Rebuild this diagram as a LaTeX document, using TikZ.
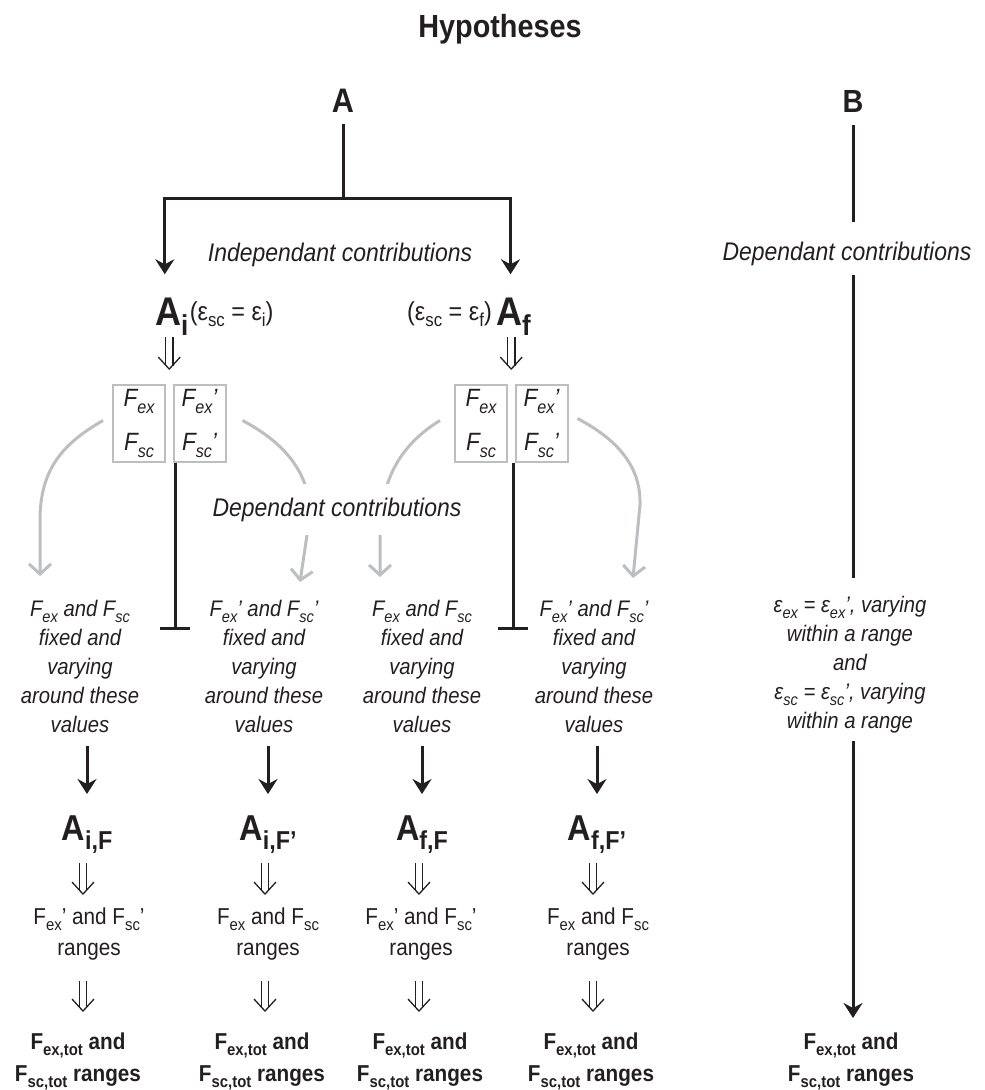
\documentclass[tikz,border=0pt]{standalone}
\usepackage{fontspec}
\setmainfont{Liberation Sans}[FakeStretch=0.9]
\usetikzlibrary{arrows.meta,calc}
\definecolor{ink}{HTML}{231F20}
\definecolor{gry}{HTML}{BCBEC0}
\newcommand{\fs}[2]{\fontsize{#1}{#2}\selectfont}
\newcommand{\lo}[1]{\raisebox{-0.25em}{\scalebox{0.72}{#1}}}
\newcommand{\dblarrow}[2]{%
	\draw[dstem] #1 -- #2;
	\draw[dtip] #1 -- #2;}
\tikzset{
	ln/.style={draw=ink, line width=3pt},
	arr/.style={ln, -{Stealth[length=15pt,width=19pt,inset=5pt]}},
	tee/.style={ln, -{Bar[width=30pt]}},
	garr/.style={draw=gry, line width=3pt, -{Straight Barb[length=10pt,width=22pt]}},
	dstem/.style={draw=ink, double=white, line width=1.3pt, double distance=6pt, shorten >=4pt},
	dtip/.style={draw=white, line width=1pt, -{Straight Barb[color=ink,length=12pt,width=22pt,line width=1.3pt]}},
	fbox/.style={draw=gry, line width=2pt, minimum width=52pt, minimum height=77pt, align=center, font=\itshape\fs{25}{44}},
	colt/.style={align=center, anchor=north, font=\itshape\fs{22.5}{29}},
	rng/.style={align=center, anchor=north, font=\fs{23}{31}},
	tot/.style={align=center, anchor=north, font=\bfseries\fs{23}{32}},
	big/.style={anchor=base, font=\bfseries\fs{36}{36}}
}
\begin{document}
\begin{tikzpicture}[x=1pt, y=-1pt, every node/.style={inner sep=0pt, text=ink}]
	%%%%% START %%%%%
	\useasboundingbox (0,0) rectangle (985,1090);
	
	\node[anchor=base, font=\bfseries\fs{32}{32}] (hyp) at (500,37) {Hypotheses};
	\node[anchor=base, font=\bfseries\fs{34}{34}] (A) at (343,112) {A};
	\node[anchor=base, font=\bfseries\fs{32}{32}] (B) at (853,112) {B};
	\node[anchor=base, font=\itshape\fs{25.5}{26}] (ind) at (340,261) {Independant contributions};
	\node[anchor=base, font=\itshape\fs{25.5}{26}] (depB) at (847,260) {Dependant contributions};
	
	\node[anchor=base west, font=\bfseries\fs{40}{40}] (Ai) at (155,325) {A\lo{i}};
	\node[anchor=base west, font=\fs{26}{26}] (Aieq) at ([xshift=1pt,yshift=5pt]Ai.base east) {(ε\lo{sc} = ε\lo{i})};
	\node[anchor=base west, font=\bfseries\fs{40}{40}] (Af) at (496,325) {A\lo{f}};
	\node[anchor=base east, font=\fs{26}{26}] (Afeq) at ([xshift=-4pt,yshift=5pt]Af.base west) {(ε\lo{sc} = ε\lo{f})};
	
	\coordinate (jA) at (343,198);
	\draw[ln, shorten <=12pt] (A) -- (jA);
	\draw[arr, shorten >=23pt] (jA) -| ([xshift=-7pt]Ai.north);
	\draw[arr, shorten >=23pt] (jA) -| ([xshift=-3pt]Af.north);
	
	\node[fbox] (bi1) at (139,423.5) {F\lo{ex}\\F\lo{sc}};
	\node[fbox] (bi2) at (199.5,423.5) {F\lo{ex}'\\F\lo{sc}'};
	\node[fbox] (bf1) at (481,423.5) {F\lo{ex}\\F\lo{sc}};
	\node[fbox] (bf2) at (541.5,423.5) {F\lo{ex}'\\F\lo{sc}'};
	
	\coordinate (gi) at ($(bi1.north east)!0.5!(bi2.north west)$);
	\coordinate (gf) at ($(bf1.north east)!0.5!(bf2.north west)$);
	\dblarrow{($(gi |- Ai.base)+(0,12)$)}{($(gi)+(0,-14)$)}
	\dblarrow{($(gf |- Af.base)+(0,12)$)}{($(gf)+(0,-14)$)}
	
	\coordinate (teei) at (175,630);
	\coordinate (teef) at (513,630);
	\draw[tee] (bi2.south west -| teei) -- (teei);
	\draw[tee] (bf2.south west -| teef) -- (teef);
	
	\coordinate (gi1) at (40,576);
	\coordinate (gi2) at (300,582);
	\coordinate (gf1) at (380,577);
	\coordinate (gf2) at (633,578);
	\draw[garr] ($(bi1.west)+(-9,-3)$) .. controls (62,444) and (40,470) .. (40,520) -- (gi1);
	\draw[garr] ($(bi2.east)+(16,-3)$) .. controls (287,444) and (310,475) .. (310,515) -- (gi2);
	\draw[garr] ($(bf1.west)+(-14,-3)$) .. controls (400,445) and (381,480) .. (380,530) -- (gf1);
	\draw[garr] ($(bf2.east)+(9,-5)$) .. controls (622,442) and (641,470) .. (640,505) -- (gf2);
	
	\node[fill=white, inner xsep=3pt, inner ysep=14pt, anchor=base, font=\itshape\fs{25.5}{26}] (dep) at (337,516) {Dependant contributions};
	
	\node[colt] (ci) at (80,600) {F\lo{ex} and F\lo{sc}\\fixed and\\varying\\around these\\values};
	\node[colt] (cii) at (264,600) {F\lo{ex}' and F\lo{sc}'\\fixed and\\varying\\around these\\values};
	\node[colt] (cf) at (422,600) {F\lo{ex} and F\lo{sc}\\fixed and\\varying\\around these\\values};
	\node[colt] (cff) at (594,600) {F\lo{ex}' and F\lo{sc}'\\fixed and\\varying\\around these\\values};
	\node[colt] (Bt) at (850,596) {ε\lo{ex} = ε\lo{ex}', varying\\within a range\\and\\ε\lo{sc} = ε\lo{sc}', varying\\within a range};
	
	\node[big] (Aif) at (87,840) {A\lo{i,F}};
	\node[big] (Aiff) at (268,840) {A\lo{i,F'}};
	\node[big] (Aff) at (422,840) {A\lo{f,F}};
	\node[big] (Afff) at (597,840) {A\lo{f,F'}};
	
	\draw[arr, shorten <=13pt, shorten >=21pt] (Aif |- ci.south) -- (Aif.north);
	\draw[arr, shorten <=13pt, shorten >=21pt] (Aiff |- cii.south) -- (Aiff.north);
	\draw[arr, shorten <=13pt, shorten >=21pt] (Aff |- cf.south) -- (Aff.north);
	\draw[arr, shorten <=13pt, shorten >=21pt] (Afff |- cff.south) -- (Afff.north);
	
	\node[rng] (ri) at (89,908) {F\lo{ex}' and F\lo{sc}'\\ranges};
	\node[rng] (rii) at (268,908) {F\lo{ex} and F\lo{sc}\\ranges};
	\node[rng] (rf) at (421,908) {F\lo{ex}' and F\lo{sc}'\\ranges};
	\node[rng] (rff) at (598,908) {F\lo{ex} and F\lo{sc}\\ranges};
	
	\node[tot] (toti) at (78,1033) {F\lo{ex,tot} and\\F\lo{sc,tot} ranges};
	\node[tot] (totii) at (262,1033) {F\lo{ex,tot} and\\F\lo{sc,tot} ranges};
	\node[tot] (totf) at (420,1033) {F\lo{ex,tot} and\\F\lo{sc,tot} ranges};
	\node[tot] (totff) at (591,1033) {F\lo{ex,tot} and\\F\lo{sc,tot} ranges};
	\node[tot] (totB) at (851,1033) {F\lo{ex,tot} and\\F\lo{sc,tot} ranges};
	
	\dblarrow{($(Aif.base)+(-4,23)$)}{($(Aif.base |- ri.north)+(-4,-13)$)}
	\dblarrow{($(Aiff.base)+(-3,23)$)}{($(Aiff.base |- rii.north)+(-3,-13)$)}
	\dblarrow{($(Aff.base)+(-3,23)$)}{($(Aff.base |- rf.north)+(-3,-13)$)}
	\dblarrow{($(Afff.base)+(-4,23)$)}{($(Afff.base |- rff.north)+(-4,-13)$)}
	\dblarrow{($(Aif.base |- ri.south)+(-4,20)$)}{($(Aif.base |- toti.north)+(-4,-21)$)}
	\dblarrow{($(Aiff.base |- rii.south)+(-3,20)$)}{($(Aiff.base |- totii.north)+(-3,-21)$)}
	\dblarrow{($(Aff.base |- rf.south)+(-3,20)$)}{($(Aff.base |- totf.north)+(-3,-21)$)}
	\dblarrow{($(Afff.base |- rff.south)+(-4,20)$)}{($(Afff.base |- totff.north)+(-4,-21)$)}
	
	\draw[ln, shorten <=13pt, shorten >=19pt] (B) -- (B |- depB.north);
	\draw[ln, shorten <=10pt, shorten >=18pt] (B |- depB.south) -- (B |- Bt.north);
	\draw[arr, shorten <=8pt, shorten >=15pt] (B |- Bt.south) -- (B |- totB.north);
	%%%%% END %%%%%
\end{tikzpicture}
\end{document}
